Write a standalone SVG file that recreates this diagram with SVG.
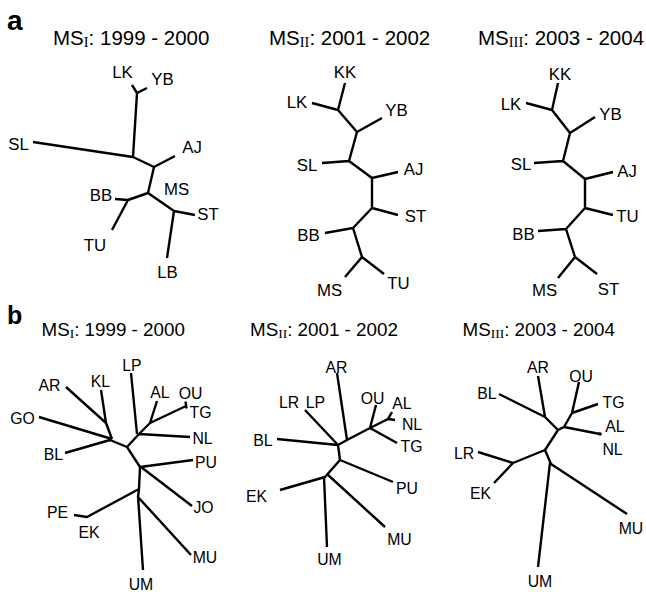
<svg xmlns="http://www.w3.org/2000/svg" width="646" height="592" viewBox="0 0 646 592">
  <style>
    .panel { font-family: "Liberation Sans", Arial, sans-serif; font-weight: bold; fill: #000; }
    .ttl { font-family: "Liberation Sans", Arial, sans-serif; fill: #000; }
    .ta { font-size: 20.5px; }
    .tb { font-size: 18.8px; }
    .sub { font-family: "Liberation Serif", "Times New Roman", serif; }
    .lab { font-family: "Liberation Sans", Arial, sans-serif; text-anchor: middle; fill: #000; }
    .la { font-size: 16.8px; }
    .lb { font-size: 15.8px; }
    .edge { fill: none; stroke: #000; stroke-width: 2.4; stroke-linecap: butt; stroke-linejoin: round; }
  </style>
  <rect width="646" height="592" fill="#fff"/>

  <!-- panel letters -->
  <text class="panel" x="7" y="30" font-size="28">a</text>
  <text class="panel" x="7" y="323.5" font-size="25">b</text>

  <!-- titles -->
  <text class="ttl ta" x="53" y="44.5">MS<tspan class="sub" font-size="14.5" dy="2.5">I</tspan><tspan dy="-2.5">: 1999 - 2000</tspan></text>
  <text class="ttl ta" x="269" y="44.5">MS<tspan class="sub" font-size="14.5" dy="2.5">II</tspan><tspan dy="-2.5">: 2001 - 2002</tspan></text>
  <text class="ttl ta" x="478" y="44.5">MS<tspan class="sub" font-size="14.5" dy="2.5">III</tspan><tspan dy="-2.5">: 2003 - 2004</tspan></text>
  <text class="ttl tb" x="41.5" y="335.5">MS<tspan class="sub" font-size="13.5" dy="2.5">I</tspan><tspan dy="-2.5">: 1999 - 2000</tspan></text>
  <text class="ttl tb" x="250" y="335.5">MS<tspan class="sub" font-size="13.5" dy="2.5">II</tspan><tspan dy="-2.5">: 2001 - 2002</tspan></text>
  <text class="ttl tb" x="462.5" y="335.5">MS<tspan class="sub" font-size="13.5" dy="2.5">III</tspan><tspan dy="-2.5">: 2003 - 2004</tspan></text>

  <!-- connectors: tree branches -->
  <g id="connectors">
    <path id="edges-a1" class="edge" d="M132,85 L137,93 L147,88 M137,93 L133,157 M33,142 L133,157 L154,167 L175,156 M154,167 L148,193 L128,200 L115,199 M128,200 L112,230 M148,193 L174,211 L195,215 M174,211 L167,258"/>
    <path id="edges-a2" class="edge" d="M345,83 L338,110 M312,103 L338,110 L357,132 L382,118 M357,132 L349,161 L322,163 M349,161 L372,178 L398,172 M372,178 L372,208 L398,215 M372,208 L353,228 L325,233 M353,228 L362,257 L345,277 M362,257 L384,274"/>
    <path id="edges-a3" class="edge" d="M558,83 L552,110 M526,103 L552,110 L570,133 L595,117 M570,133 L563,161 L534,163 M563,161 L585,179 L613,172 M585,179 L585,208 L613,215 M585,208 L566,229 L538,231 M566,229 L575,257 L558,278 M575,257 L597,274"/>
    <path id="edges-b1" class="edge" d="M131,373 L137,434 M66,387 L106,423 L112,439 M101,390 L106,423 M39,417 L112,439 M65,453 L110,440 L127,447 L139,434 L190,437 M139,434 L150,423 L157,401 M150,423 L186,406 M185.5,401.5 L186.5,408.5 M127,447 L140,467 L193,460 M141,467 L192,506 M140,467 L139,489 L87,517 L74,515 M139,489 L138,497 L191,555 M138,496 L143,570"/>
    <path id="edges-b2" class="edge" d="M337,373 L347,440 M305,410 L338,445 M277,439 L338,445 L347,440 M338,445 L340,460 M347,440 L370,428 L376,405 M370,428 L388,419 L392,412 M388,419 L395,420 M370,428 L397,443 M340,460 L393,482 M340,460 L325,477 L280,490 M327,474 L385,527 M324,477 L327,547"/>
    <path id="edges-b3" class="edge" d="M499,394 L545,417 M538,376 L545,417 L558,430 L564,427 L600,434 M564,427 L572,413 L579,382 M572,413 L598,404 M558,430 L545,450 L513,463 L478,452 M513,463 L494,483 M545,450 L551,464 L627,514 M550,463 L538,567"/>
    <circle cx="600" cy="434" r="1.8" fill="#000"/>
  </g>

  <!-- a, MS I -->
  <g id="a1-LK"><text class="lab la" x="122.5" y="78">LK</text></g>
  <g id="a1-YB"><text class="lab la" x="162.5" y="85">YB</text></g>
  <g id="a1-SL"><text class="lab la" x="18.5" y="150">SL</text></g>
  <g id="a1-AJ"><text class="lab la" x="192" y="153">AJ</text></g>
  <g id="a1-MS"><text class="lab la" x="176.5" y="195">MS</text></g>
  <g id="a1-BB"><text class="lab la" x="101" y="201">BB</text></g>
  <g id="a1-ST"><text class="lab la" x="208" y="220">ST</text></g>
  <g id="a1-TU"><text class="lab la" x="95" y="251">TU</text></g>
  <g id="a1-LB"><text class="lab la" x="167.5" y="278">LB</text></g>

  <!-- a, MS II -->
  <g id="a2-KK"><text class="lab la" x="345" y="78">KK</text></g>
  <g id="a2-LK"><text class="lab la" x="297" y="108">LK</text></g>
  <g id="a2-YB"><text class="lab la" x="396.5" y="116">YB</text></g>
  <g id="a2-SL"><text class="lab la" x="307" y="170.5">SL</text></g>
  <g id="a2-AJ"><text class="lab la" x="413.5" y="175">AJ</text></g>
  <g id="a2-ST"><text class="lab la" x="415.5" y="221.5">ST</text></g>
  <g id="a2-BB"><text class="lab la" x="308.5" y="241">BB</text></g>
  <g id="a2-MS"><text class="lab la" x="329.5" y="295.5">MS</text></g>
  <g id="a2-TU"><text class="lab la" x="398.5" y="289">TU</text></g>

  <!-- a, MS III -->
  <g id="a3-KK"><text class="lab la" x="560" y="80">KK</text></g>
  <g id="a3-LK"><text class="lab la" x="511" y="110">LK</text></g>
  <g id="a3-YB"><text class="lab la" x="610.5" y="120">YB</text></g>
  <g id="a3-SL"><text class="lab la" x="521" y="170">SL</text></g>
  <g id="a3-AJ"><text class="lab la" x="627" y="177">AJ</text></g>
  <g id="a3-TU"><text class="lab la" x="627.5" y="222">TU</text></g>
  <g id="a3-BB"><text class="lab la" x="523.5" y="240">BB</text></g>
  <g id="a3-MS"><text class="lab la" x="544.5" y="296">MS</text></g>
  <g id="a3-ST"><text class="lab la" x="608.5" y="295">ST</text></g>

  <!-- b, MS I -->
  <g id="b1-LP"><text class="lab lb" x="132" y="370.5">LP</text></g>
  <g id="b1-AR"><text class="lab lb" x="49.5" y="390.5">AR</text></g>
  <g id="b1-KL"><text class="lab lb" x="100.5" y="387">KL</text></g>
  <g id="b1-GO"><text class="lab lb" x="22.5" y="424">GO</text></g>
  <g id="b1-BL"><text class="lab lb" x="53.5" y="460">BL</text></g>
  <g id="b1-AL"><text class="lab lb" x="160" y="398">AL</text></g>
  <g id="b1-OU"><text class="lab lb" x="190.5" y="398.5">OU</text></g>
  <g id="b1-TG"><text class="lab lb" x="200.5" y="417.5">TG</text></g>
  <g id="b1-NL"><text class="lab lb" x="202.5" y="443.5">NL</text></g>
  <g id="b1-PU"><text class="lab lb" x="206" y="467.5">PU</text></g>
  <g id="b1-JO"><text class="lab lb" x="203.5" y="513">JO</text></g>
  <g id="b1-PE"><text class="lab lb" x="57.5" y="518">PE</text></g>
  <g id="b1-EK"><text class="lab lb" x="89" y="537.5">EK</text></g>
  <g id="b1-MU"><text class="lab lb" x="205" y="562.5">MU</text></g>
  <g id="b1-UM"><text class="lab lb" x="141" y="590">UM</text></g>

  <!-- b, MS II -->
  <g id="b2-AR"><text class="lab lb" x="336.5" y="373">AR</text></g>
  <g id="b2-LR"><text class="lab lb" x="289" y="407.5">LR</text></g>
  <g id="b2-LP"><text class="lab lb" x="315.5" y="407.5">LP</text></g>
  <g id="b2-BL"><text class="lab lb" x="263" y="446">BL</text></g>
  <g id="b2-OU"><text class="lab lb" x="372.5" y="403.5">OU</text></g>
  <g id="b2-AL"><text class="lab lb" x="402" y="408.5">AL</text></g>
  <g id="b2-NL"><text class="lab lb" x="412" y="429.5">NL</text></g>
  <g id="b2-TG"><text class="lab lb" x="411.5" y="451.5">TG</text></g>
  <g id="b2-PU"><text class="lab lb" x="407" y="494">PU</text></g>
  <g id="b2-EK"><text class="lab lb" x="256.5" y="502">EK</text></g>
  <g id="b2-MU"><text class="lab lb" x="399.5" y="544.5">MU</text></g>
  <g id="b2-UM"><text class="lab lb" x="329.5" y="564.5">UM</text></g>

  <!-- b, MS III -->
  <g id="b3-AR"><text class="lab lb" x="538" y="373">AR</text></g>
  <g id="b3-BL"><text class="lab lb" x="487" y="399">BL</text></g>
  <g id="b3-OU"><text class="lab lb" x="581" y="381.5">OU</text></g>
  <g id="b3-TG"><text class="lab lb" x="613.5" y="407.5">TG</text></g>
  <g id="b3-AL"><text class="lab lb" x="615" y="432">AL</text></g>
  <g id="b3-NL"><text class="lab lb" x="612.5" y="455">NL</text></g>
  <g id="b3-LR"><text class="lab lb" x="464" y="459">LR</text></g>
  <g id="b3-EK"><text class="lab lb" x="480.5" y="499">EK</text></g>
  <g id="b3-MU"><text class="lab lb" x="631" y="534">MU</text></g>
  <g id="b3-UM"><text class="lab lb" x="540" y="586.5">UM</text></g>
</svg>
